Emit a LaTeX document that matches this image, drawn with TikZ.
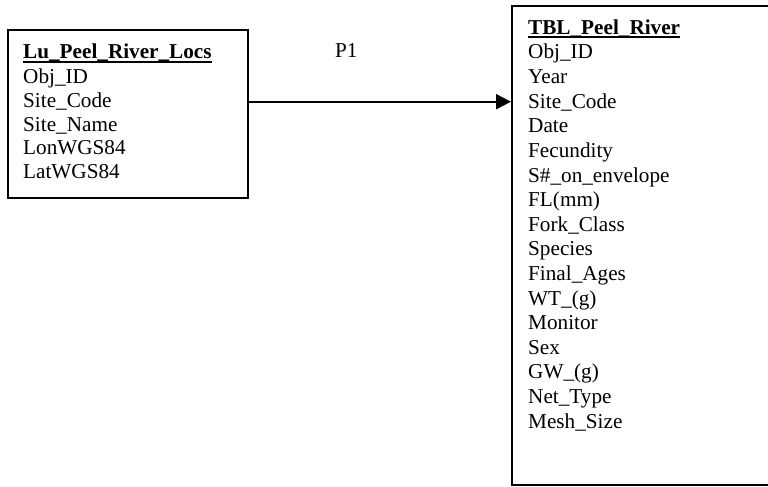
\documentclass[tikz,border=0pt]{standalone}
\usepackage{fontspec}
\setmainfont{Liberation Serif}
\usetikzlibrary{arrows.meta}
\begin{document}
\begin{tikzpicture}[x=1pt,y=-1pt,
  entity/.style={draw=black, line width=2pt, fill=white, inner sep=0pt},
  field/.style={anchor=base west, inner sep=0pt, font=\fontsize{21.2}{24}\selectfont},
  heading/.style={field, font=\fontsize{21.2}{24}\selectfont\bfseries},
  headrule/.style={line width=1.8pt},
  rel/.style={line width=2pt, -{Triangle[length=15pt,width=15pt]}}]
\useasboundingbox (0,0) rectangle (768,487);
\begin{scope}
\clip (0,0) rectangle (768,487);
% entity boxes; the table box runs on past the right edge
\node[entity, minimum width=240pt, minimum height=168pt] (locs) at (128,114) {};
\node[entity, minimum width=400pt, minimum height=479pt] (tbl) at (712,245.5) {};
\end{scope}

% Lu_Peel_River_Locs
\node[heading] (locsname) at (23,59) {Lu\_Peel\_River\_Locs};
\draw[headrule] ([yshift=-3pt]locsname.base west) -- ([yshift=-3pt]locsname.base east);
\foreach \f [count=\i] in {Obj\_ID, Site\_Code, Site\_Name, LonWGS84, LatWGS84}
  \node[field] (locs-\i) at (23, 60.5+\i*23.5) {\f};

% TBL_Peel_River
\node[heading] (tblname) at (528,34.4) {TBL\_Peel\_River};
\draw[headrule] ([yshift=-3pt]tblname.base west) -- ([yshift=-3pt]tblname.base east);
\foreach \f [count=\i] in {Obj\_ID, Year, Site\_Code, Date, Fecundity,
    S\#\_on\_envelope, {FL(mm)}, Fork\_Class, Species, Final\_Ages,
    WT\_(g), Monitor, Sex, GW\_(g), Net\_Type, Mesh\_Size}
  \node[field] (tbl-\i) at (528, 34.4+\i*24.6) {\f};

% relationship
\coordinate (p1y) at (0,101.7);
\draw[rel] (locs.east |- p1y) -- (tbl.west |- p1y);
\node[field] (p1) at (335,57) {P1};
\end{tikzpicture}
\end{document}
